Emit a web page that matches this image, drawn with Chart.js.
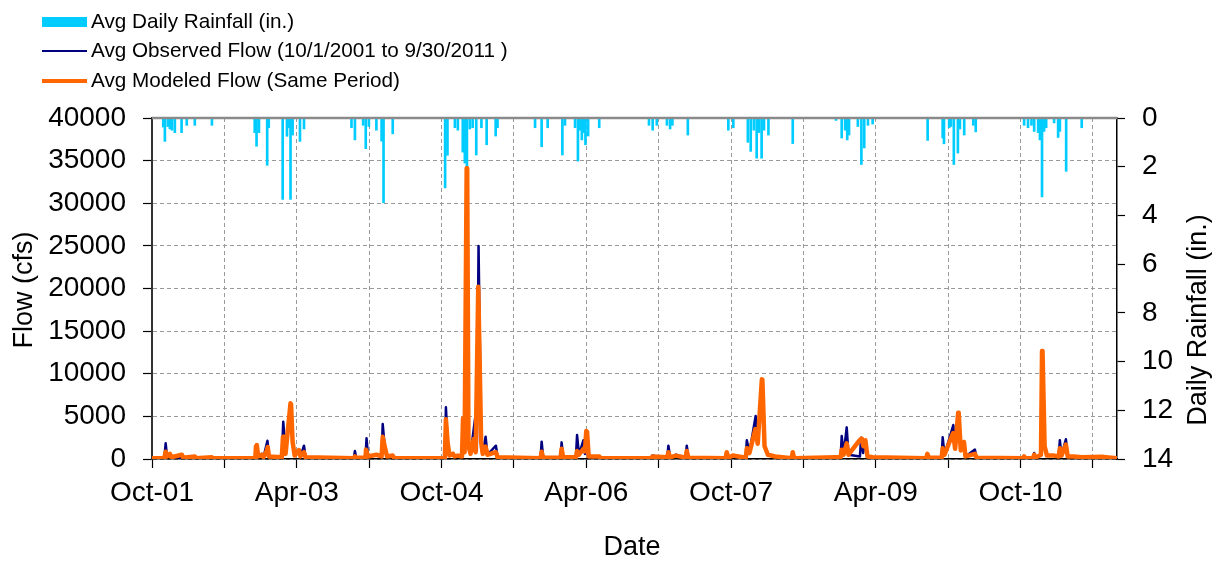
<!DOCTYPE html>
<html><head><meta charset="utf-8">
<script src="https://cdn.jsdelivr.net/npm/chart.js@4/dist/chart.umd.min.js"></script>
<style>
html,body{margin:0;padding:0;background:#fff;}
#wrap{position:relative;width:1219px;height:564px;}
#legend{position:absolute;left:0;top:0;font-family:"Liberation Sans",Arial,sans-serif;font-size:20.7px;color:#000;}
.item{position:absolute;white-space:nowrap;line-height:24px;}
.sw{position:absolute;}
</style></head><body>
<div id="wrap"><canvas id="c" width="1219" height="564"></canvas><div id="legend"></div></div>
<script>
const rainDates = ["2001-11-13","2001-11-19","2001-11-30","2001-12-08","2001-12-16","2001-12-27","2002-01-22","2002-02-10","2002-03-11","2002-05-15",
"2002-10-25","2002-11-01","2002-11-10","2002-12-11","2002-12-17","2003-02-08","2003-02-23","2003-03-01","2003-03-08","2003-03-16","2003-04-13","2003-04-28",
"2003-10-26","2003-11-08","2003-12-09","2003-12-19","2003-12-31","2004-01-29","2004-02-17","2004-02-24","2004-03-30",
"2004-10-15","2004-10-24","2004-11-21","2004-12-02","2004-12-21","2004-12-29","2005-01-06","2005-01-17","2005-01-28","2005-02-10","2005-02-28","2005-03-20","2005-04-23","2005-04-30",
"2005-09-20","2005-10-15","2005-11-07","2006-01-02","2006-01-12","2006-02-18","2006-02-28","2006-03-08","2006-03-15","2006-03-23","2006-03-29","2006-04-08","2006-05-20",
"2006-11-25","2006-12-09","2006-12-25","2007-02-02","2007-02-13","2007-02-21","2007-04-20",
"2007-09-21","2007-10-10","2007-12-04","2007-12-15","2007-12-27","2008-01-07","2008-01-16","2008-01-26","2008-02-04","2008-02-20","2008-05-22",
"2008-11-03","2008-11-24","2008-12-07","2008-12-15","2008-12-22","2009-01-25","2009-02-07","2009-02-17","2009-03-02","2009-03-20",
"2009-10-15","2009-12-11","2009-12-16","2010-01-05","2010-01-12","2010-01-23","2010-02-07","2010-02-14","2010-03-01","2010-04-05","2010-04-14",
"2010-10-15","2010-10-30","2010-11-12","2010-11-22","2010-12-07","2010-12-14","2010-12-22","2010-12-30","2011-01-07","2011-02-06","2011-02-20","2011-02-26","2011-03-22","2011-05-20"];
const rainInches = [0.37,0.96,0.35,0.45,0.5,0.6,0.6,0.3,0.3,0.3,
0.6,1.16,0.6,1.94,0.4,3.34,0.75,0.4,3.34,0.7,0.96,0.45,
0.4,0.9,0.3,1.26,0.35,0.5,0.95,3.48,0.65,
2.87,1.53,0.4,0.5,1.4,1.85,2.0,0.45,0.4,1.52,0.4,1.1,0.74,0.4,
0.4,1.18,0.4,1.52,0.3,0.4,1.77,0.5,0.9,0.6,1.1,0.74,0.4,
0.3,0.5,0.3,0.3,0.45,0.3,0.7,
0.5,0.4,1.0,1.37,0.5,1.65,0.6,1.65,0.5,0.7,1.05,
0.1,0.82,0.5,0.9,0.7,0.35,1.91,1.23,0.3,0.25,
0.92,0.82,1.06,0.4,0.35,1.91,1.44,0.45,0.7,0.3,0.57,
0.3,0.4,0.3,0.55,0.6,0.9,3.24,0.55,0.4,0.2,0.8,0.55,2.19,0.4];

const obsDates = ["2001-10-01","2001-11-17","2001-11-22","2001-11-27","2001-12-08","2001-12-14","2002-01-20","2002-01-23","2002-01-28","2002-03-08","2002-03-11","2002-03-15","2002-05-15","2002-05-19",
"2002-10-27","2002-11-01","2002-11-07","2002-11-21","2002-11-27","2002-12-12","2002-12-18","2003-02-05","2003-02-10","2003-02-18","2003-03-09","2003-03-16","2003-03-24","2003-04-09","2003-04-15","2003-04-28","2003-05-04",
"2003-11-04","2003-11-08","2003-11-13","2003-12-18","2003-12-22","2003-12-28","2004-01-29","2004-02-17","2004-02-21","2004-02-28","2004-03-08","2004-03-30","2004-04-05",
"2004-10-14","2004-10-18","2004-10-25","2004-11-01","2004-11-14","2004-11-20","2004-12-02","2004-12-18","2004-12-22","2004-12-28","2005-01-06","2005-01-12","2005-01-20","2005-02-06","2005-02-12","2005-02-18","2005-02-27","2005-03-05","2005-03-16","2005-03-23","2005-04-24","2005-04-30",
"2005-10-11","2005-10-15","2005-10-21","2005-12-26","2005-12-30","2006-01-05","2006-02-21","2006-02-25","2006-03-04","2006-03-21","2006-03-27","2006-04-03","2006-04-10","2006-05-20","2006-05-25",
"2006-12-04","2006-12-08","2006-12-26","2007-02-03","2007-02-07","2007-02-13","2007-03-06","2007-04-12","2007-04-16","2007-04-22",
"2007-09-11","2007-09-15","2007-09-21","2007-10-08","2007-11-26","2007-11-30","2007-12-10","2008-01-03","2008-01-11","2008-01-28","2008-02-06","2008-02-18","2008-03-16","2008-05-18","2008-05-22","2008-05-27",
"2008-11-03","2008-11-20","2008-11-24","2008-12-01","2008-12-13","2008-12-20","2009-02-02","2009-02-06","2009-02-13","2009-02-21","2009-02-28","2009-03-20",
"2009-10-10","2009-10-14","2009-10-20","2009-12-07","2009-12-11","2009-12-18","2010-01-21","2010-01-28","2010-02-09","2010-02-16","2010-02-28","2010-03-06","2010-04-11","2010-04-17",
"2010-10-11","2010-10-15","2010-10-19","2010-11-18","2010-11-22","2010-11-26","2010-12-18","2010-12-23","2011-01-01","2011-01-10","2011-02-06","2011-02-22","2011-02-26","2011-03-04","2011-03-21","2011-03-28","2011-04-20","2011-05-20","2011-08-10","2011-09-30"];
const obsFlow = [100,100,1840,300,600,200,150,500,150,100,300,100,200,80,
100,1640,300,600,200,2150,300,200,4380,800,6400,2000,400,1050,300,1560,200,
100,940,150,150,2430,300,500,300,4100,1500,300,400,100,
100,6060,1800,400,700,300,400,300,4000,800,32000,1500,600,4770,1000,24990,2000,600,2620,500,1560,200,
100,2030,150,150,1950,200,200,2810,500,2200,600,3000,300,300,100,
100,400,300,200,1560,200,500,150,1560,150,
100,800,150,400,150,2190,700,5040,1800,9000,1500,500,300,100,800,100,
200,200,2700,500,3710,500,300,2500,700,2200,300,200,
100,600,150,150,2540,500,3990,1200,4500,1000,1800,300,1100,150,
100,300,100,100,700,150,500,12000,1500,400,400,300,2190,400,2320,300,300,200,250,100];

const modDates = ["2001-10-01","2001-11-17","2001-11-22","2001-11-28","2001-12-08","2001-12-14","2002-01-23","2002-01-28","2002-03-11","2002-03-15","2002-05-15","2002-05-19",
"2002-10-27","2002-10-30","2002-11-02","2002-11-07","2002-11-21","2002-11-27","2002-12-10","2002-12-13","2002-12-18","2003-02-05","2003-02-09","2003-02-11","2003-02-18","2003-03-08","2003-03-10","2003-03-16","2003-03-24","2003-04-09","2003-04-15","2003-04-28","2003-05-04",
"2003-11-04","2003-11-08","2003-11-13","2003-12-18","2003-12-20","2003-12-28","2004-01-29","2004-02-17","2004-02-21","2004-02-28","2004-03-08","2004-03-30","2004-04-05",
"2004-10-14","2004-10-18","2004-10-25","2004-11-01","2004-11-14","2004-11-20","2004-12-02","2004-12-18","2004-12-22","2004-12-28","2005-01-05","2005-01-07","2005-01-12","2005-01-20","2005-02-01","2005-02-08","2005-02-17","2005-02-19","2005-02-27","2005-03-05","2005-03-16","2005-03-23","2005-04-24","2005-04-30",
"2005-10-11","2005-10-15","2005-10-21","2005-12-26","2005-12-30","2006-01-05","2006-02-21","2006-02-25","2006-03-04","2006-03-21","2006-03-27","2006-04-01","2006-04-04","2006-04-10","2006-05-20","2006-05-25",
"2006-12-04","2006-12-08","2007-02-03","2007-02-07","2007-02-13","2007-03-06","2007-04-12","2007-04-16","2007-04-22",
"2007-09-11","2007-09-15","2007-09-21","2007-10-08","2007-11-26","2007-11-30","2007-12-10","2008-01-02","2008-01-04","2008-01-11","2008-01-27","2008-01-29","2008-02-06","2008-02-18","2008-03-16","2008-05-18","2008-05-22","2008-05-27",
"2008-11-03","2008-11-20","2008-11-24","2008-12-01","2008-12-13","2008-12-20","2009-02-01","2009-02-08","2009-02-14","2009-02-21","2009-02-28","2009-03-20",
"2009-10-10","2009-10-14","2009-10-20","2009-12-07","2009-12-11","2009-12-18","2010-01-20","2010-01-28","2010-02-08","2010-02-10","2010-02-17","2010-02-28","2010-03-06","2010-04-11","2010-04-17",
"2010-10-11","2010-10-15","2010-10-19","2010-11-18","2010-11-22","2010-11-26","2010-12-18","2010-12-22","2010-12-24","2011-01-01","2011-01-10","2011-02-06","2011-02-22","2011-02-26","2011-03-04","2011-03-21","2011-03-28","2011-04-20","2011-05-20","2011-08-10","2011-09-30"];
const modFlow = [100,100,850,300,600,200,500,150,300,100,200,80,
100,1500,1640,300,500,200,1000,1400,300,200,2600,2620,600,6530,6400,2000,400,1050,300,800,200,
100,300,150,150,1100,300,500,300,2600,1500,300,400,100,
100,4650,1800,400,600,300,400,300,4770,800,34100,34100,1500,600,2350,800,20200,20200,2000,600,1450,500,800,200,
100,850,150,150,1200,200,200,950,500,1200,900,3280,3200,300,300,100,
100,300,200,800,200,400,150,950,150,
100,800,150,400,150,1250,700,3500,3400,1800,9350,9300,1500,500,300,100,800,100,
200,200,1080,500,1830,500,2200,2400,1500,2200,300,200,
100,600,150,150,1250,500,3050,1200,5430,5300,1000,2000,300,600,150,
100,300,100,100,500,150,500,12670,12500,1500,400,400,300,1260,400,1700,300,300,200,250,100];

const flowTicks = [0,5000,10000,15000,20000,25000,30000,35000,40000];
const rainTicks = [0,2,4,6,8,10,12,14];
const dateTickMonths = [0,9,18,27,36,45,54,63,72,81,90,99,108,117];
const dateTickLabels = ["Oct-01","","Apr-03","","Oct-04","","Apr-06","","Oct-07","","Apr-09","","Oct-10",""];

const seriesNames = ["Avg Daily Rainfall (in.)","Avg Observed Flow (10/1/2001 to 9/30/2011 )","Avg Modeled Flow (Same Period)"];
const seriesColors = ["#00CCFF","#000080","#FF6600"];

// position on the date axis: months since Oct 2001
function toX(s){const p=s.split('-').map(Number);const dim=new Date(p[0],p[1],0).getDate();return (p[0]-2001)*12+(p[1]-10)+(p[2]-1)/dim;}
const pts=(ds,vs)=>ds.map((d,i)=>({x:toX(d),y:vs[i]}));

const FONT = '"Liberation Sans", Arial, sans-serif';
const tickFont = {family: FONT, size: 28};

const lg=document.getElementById('legend');
const swY=[22,51,81], swH=[10,2.5,4.5];
seriesNames.forEach((n,i)=>{
  const s=document.createElement('div');s.className='sw';
  s.style.cssText=`left:42px;width:45px;top:${swY[i]-swH[i]/2}px;height:${swH[i]}px;background:${seriesColors[i]};`;
  lg.appendChild(s);
  const t=document.createElement('div');t.className='item';t.textContent=n;
  t.style.left='91px';t.style.top=(swY[i]-13)+'px';lg.appendChild(t);
});

const deco={id:'deco',afterDraw(chart){
  const c=chart.ctx,a=chart.chartArea;
  c.save();
  c.strokeStyle='#8a8a8a';c.lineWidth=2.5;c.beginPath();c.moveTo(a.left,a.top);c.lineTo(a.right,a.top);c.stroke();
  c.fillStyle='#000';c.font='27px '+FONT;c.textAlign='center';c.textBaseline='middle';
  c.fillText('Date',632,548);
  c.save();c.translate(25,290);c.rotate(-Math.PI/2);c.fillText('Flow (cfs)',0,0);c.restore();
  c.save();c.translate(1199,320);c.rotate(-Math.PI/2);c.fillText('Daily Rainfall (in.)',0,0);c.restore();
  c.restore();
}};

new Chart(document.getElementById('c'),{
  type:'line',
  data:{datasets:[
    {type:'bar',label:seriesNames[0],data:pts(rainDates,rainInches),backgroundColor:seriesColors[0],borderWidth:0,barThickness:2,grouped:false,yAxisID:'y2',order:3},
    {type:'line',label:seriesNames[1],data:pts(obsDates,obsFlow),borderColor:seriesColors[1],borderWidth:2.5,pointRadius:0,tension:0,borderJoinStyle:'round',yAxisID:'y',order:2},
    {type:'line',label:seriesNames[2],data:pts(modDates,modFlow),borderColor:seriesColors[2],borderWidth:4.5,pointRadius:0,tension:0,borderJoinStyle:'round',borderCapStyle:'round',yAxisID:'y',order:1}
  ]},
  options:{
    responsive:false,animation:false,devicePixelRatio:1,
    layout:{padding:{top:118,left:0,right:0,bottom:0}},
    plugins:{legend:{display:false},tooltip:{enabled:false}},
    scales:{
      x:{type:'linear',min:0,max:120,offset:false,
        afterBuildTicks:s=>{s.ticks=dateTickMonths.map(v=>({value:v}));},
        afterFit:s=>{s.height=105;},
        ticks:{autoSkip:false,maxRotation:0,minRotation:0,color:'#000',font:tickFont,padding:8,
          callback:(v)=>{const i=dateTickMonths.indexOf(v);return i>=0?dateTickLabels[i]:'';}},
        grid:{offset:false,color:'#9a9a9a',lineWidth:1,tickColor:'#000',tickLength:9,tickWidth:1.2},
        border:{color:'#000',width:1.5,dash:[4,3]}},
      y:{position:'left',min:0,max:40000,
        afterBuildTicks:s=>{s.ticks=flowTicks.map(v=>({value:v}));},
        afterFit:s=>{s.width=152;},
        ticks:{color:'#000',font:tickFont,padding:17,callback:v=>String(v)},
        grid:{color:'#9a9a9a',lineWidth:1,tickColor:'#000',tickLength:9,tickWidth:1.2},
        border:{color:'#333',width:2,dash:[4,3]}},
      y2:{position:'right',min:0,max:14,reverse:true,
        afterBuildTicks:s=>{s.ticks=rainTicks.map(v=>({value:v}));},
        afterFit:s=>{s.width=102;},
        ticks:{color:'#000',font:tickFont,padding:17,callback:v=>String(v)},
        grid:{drawOnChartArea:false,tickColor:'#000',tickLength:8,tickWidth:1.2},
        border:{color:'#000',width:1.5}}
    }
  },
  plugins:[deco]
});
</script>
</body></html>
